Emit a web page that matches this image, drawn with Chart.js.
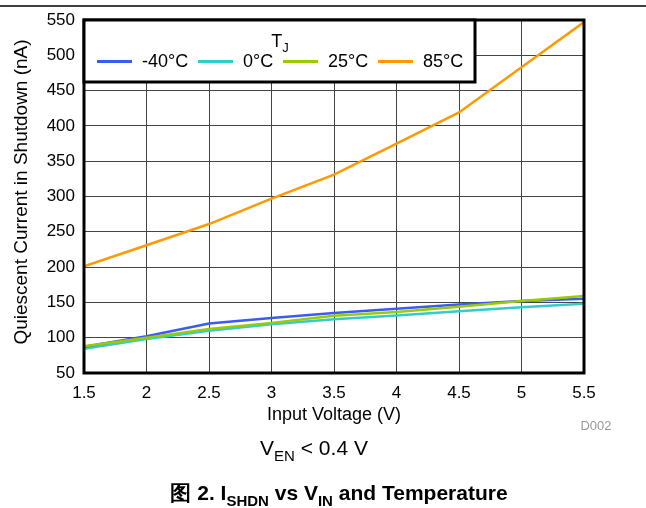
<!DOCTYPE html>
<html>
<head>
<meta charset="utf-8">
<script src="https://cdn.jsdelivr.net/npm/chart.js@4.4.1/dist/chart.umd.min.js"></script>
<style>
  html, body { margin: 0; padding: 0; background: #fff; }
  canvas { display: block; }
</style>
</head>
<body>
<canvas id="chart" width="646" height="508"></canvas>
<script>
// input voltage (V) on the x axis
const voltages = [1.5, 2, 2.5, 3, 3.5, 4, 4.5, 5, 5.5];

// quiescent current in shutdown (nA) for each junction temperature
const tjMinus40 = [87, 102, 120, 128, 135, 141, 147, 152, 155];
const tj0 = [84.5, 98, 110, 119, 126, 131.5, 137.5, 143, 148];
const tj25 = [88, 100, 112.5, 121, 131, 136.5, 144, 152, 159];
const tj85 = [201, 231, 261, 297, 331, 375, 419, 483, 547];

const seriesNames = ["-40°C", "0°C", "25°C", "85°C"];
const seriesColors = ["#3b5cf0", "#33cccc", "#99cc00", "#ff9900"];

const yTicks = { min: 50, max: 550, step: 50 };
const xTicks = { min: 1.5, max: 5.5, step: 0.5 };

const FONT = '"Liberation Sans", Arial, Helvetica, sans-serif';

function toPoints(values) {
  return values.map((v, i) => ({ x: voltages[i], y: v }));
}

// draws text made of normal and subscript parts, centred on x
function drawRich(ctx, parts, x, y, size, weight) {
  const subSize = Math.round(size * 0.72);
  let total = 0;
  parts.forEach(p => {
    ctx.font = `${weight} ${p.sub ? subSize : size}px ${FONT}`;
    p.w = ctx.measureText(p.t).width;
    total += p.w;
  });
  let cx = x - total / 2;
  ctx.textAlign = "left";
  ctx.textBaseline = "alphabetic";
  parts.forEach(p => {
    ctx.font = `${weight} ${p.sub ? subSize : size}px ${FONT}`;
    ctx.fillText(p.t, cx, p.sub ? y + size * 0.3 : y);
    cx += p.w;
  });
}

const overlay = {
  id: "overlay",
  afterDatasetsDraw(chart) {
    const ctx = chart.ctx;
    const a = chart.chartArea;
    ctx.save();

    // plot frame
    ctx.strokeStyle = "#000";
    ctx.lineWidth = 3;
    ctx.strokeRect(a.left, a.top, a.right - a.left, a.bottom - a.top);

    // legend box
    const lx = a.left, ly = a.top, lw = 475 - a.left, lh = 82 - a.top;
    ctx.fillStyle = "#fff";
    ctx.fillRect(lx, ly, lw, lh);
    ctx.strokeRect(lx, ly, lw, lh);

    ctx.fillStyle = "#000";
    drawRich(ctx, [{ t: "T" }, { t: "J", sub: true }], 280, 47, 18, "normal");

    const itemX = [97, 198, 283, 378];
    ctx.font = `18px ${FONT}`;
    ctx.textBaseline = "middle";
    chart.data.datasets.forEach((ds, i) => {
      ctx.strokeStyle = ds.borderColor;
      ctx.lineWidth = 3;
      ctx.beginPath();
      ctx.moveTo(itemX[i], 61.5);
      ctx.lineTo(itemX[i] + 35, 61.5);
      ctx.stroke();
      ctx.fillStyle = "#000";
      ctx.textAlign = "left";
      ctx.fillText(ds.label, itemX[i] + 45, 62);
    });
    ctx.restore();
  },
  afterDraw(chart) {
    const ctx = chart.ctx;
    ctx.save();

    // rule at the top of the page
    ctx.strokeStyle = "#000";
    ctx.lineWidth = 1.5;
    ctx.beginPath();
    ctx.moveTo(0, 6);
    ctx.lineTo(646, 6);
    ctx.stroke();

    ctx.fillStyle = "#000";
    ctx.font = `18px ${FONT}`;
    ctx.textAlign = "center";
    ctx.textBaseline = "middle";
    ctx.fillText("Input Voltage (V)", 334, 415);

    ctx.save();
    ctx.translate(22, 192);
    ctx.rotate(-Math.PI / 2);
    ctx.font = `19px ${FONT}`;
    ctx.fillText("Quiescent Current in Shutdown (nA)", 0, 0);
    ctx.restore();

    ctx.fillStyle = "#999";
    ctx.font = `13px ${FONT}`;
    ctx.fillText("D002", 596, 426);

    ctx.fillStyle = "#000";
    drawRich(ctx, [{ t: "V" }, { t: "EN", sub: true }, { t: " < 0.4 V" }], 314, 455, 21, "normal");

    drawRich(ctx, [
      { t: "图 2. I" }, { t: "SHDN", sub: true }, { t: " vs V" }, { t: "IN", sub: true },
      { t: " and Temperature" }
    ], 339, 500, 21, "bold");
    ctx.restore();
  }
};

const allSeries = [tjMinus40, tj0, tj25, tj85];
const drawOrder = [2, 3, 1, 0];

new Chart(document.getElementById("chart"), {
  type: "line",
  data: {
    datasets: allSeries.map((vals, i) => ({
      label: seriesNames[i],
      data: toPoints(vals),
      borderColor: seriesColors[i],
      backgroundColor: seriesColors[i],
      borderWidth: 2.5,
      pointRadius: 0,
      tension: 0,
      order: drawOrder[i]
    }))
  },
  options: {
    responsive: false,
    animation: false,
    layout: { padding: { top: 20, right: 62, left: 0, bottom: 0 } },
    plugins: {
      legend: { display: false },
      tooltip: { enabled: false }
    },
    scales: {
      x: {
        type: "linear",
        min: xTicks.min,
        max: xTicks.max,
        afterFit: s => { s.height = 508 - 373; },
        ticks: {
          stepSize: xTicks.step,
          color: "#000",
          padding: 10,
          font: { family: FONT, size: 17 },
          callback: v => String(Math.round(v * 10) / 10)
        },
        grid: { color: "#444", lineWidth: 1, drawTicks: false },
        border: { display: false }
      },
      y: {
        min: yTicks.min,
        max: yTicks.max,
        afterFit: s => { s.width = 84; },
        ticks: {
          stepSize: yTicks.step,
          color: "#000",
          padding: 9,
          font: { family: FONT, size: 17 }
        },
        grid: { color: "#444", lineWidth: 1, drawTicks: false },
        border: { display: false }
      }
    }
  },
  plugins: [overlay]
});
</script>
</body>
</html>
